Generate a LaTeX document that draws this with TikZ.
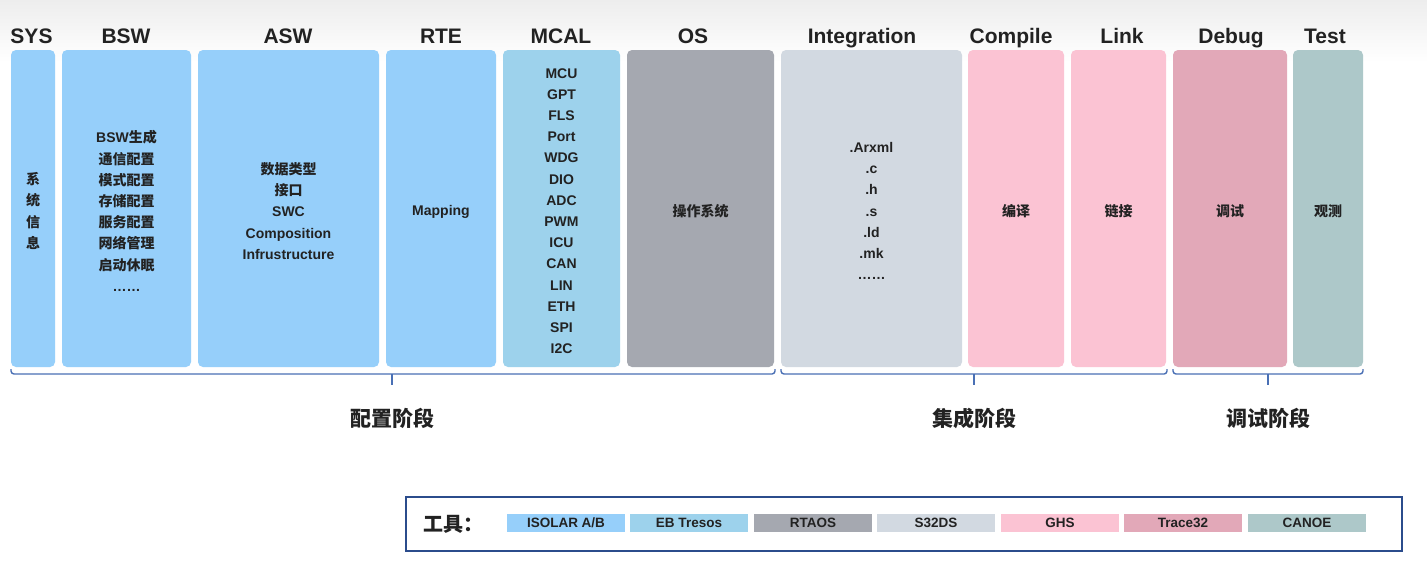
\documentclass[tikz,border=0pt]{standalone}
\usepackage{fontspec}
\setmainfont{Liberation Sans}
\newfontfamily\cjk{Noto Sans CJK SC}
\definecolor{cblue}{HTML}{96CFFA}
\definecolor{cmcal}{HTML}{9DD2EC}
\definecolor{cos}{HTML}{A5A8B0}
\definecolor{cint}{HTML}{D2D9E1}
\definecolor{cpink}{HTML}{FBC3D3}
\definecolor{cdbg}{HTML}{E2A8B8}
\definecolor{ctest}{HTML}{ADC8C9}
\definecolor{cbrace}{HTML}{4A70B5}
\definecolor{cframe}{HTML}{2B4C8C}
\definecolor{ctext}{HTML}{222222}
\begin{document}
\begin{tikzpicture}[x=1pt,y=-1pt,
  col/.style={rounded corners=5pt, inner sep=0pt, minimum height=317pt},
  txt/.style={inner sep=0pt, align=center, yshift=-2.5pt,
    font=\bfseries\fontsize{14}{21.2}\selectfont, text=ctext},
  txtcjk/.style={txt, font=\cjk\bfseries\fontsize{14}{21.2}\selectfont},
  head/.style={font=\bfseries\fontsize{21}{25}\selectfont, text=ctext, anchor=base},
  phase/.style={font=\cjk\bfseries\fontsize{21}{25}\selectfont, text=ctext},
  chip/.style={minimum width=118pt, minimum height=18pt, inner sep=0pt,
    font=\bfseries\fontsize{13.5}{15}\selectfont, text=ctext},
  brace/.style={draw=cbrace, line width=1.4pt, rounded corners=3pt},
  tick/.style={draw=cbrace, line width=1.4pt}]
\useasboundingbox (0,0) rectangle (1427,573);
\fill[white] (0,0) rectangle (1427,573);
\shade[top color=gray!14, bottom color=white] (0,0) rectangle (1427,62);

% headers
\node[head] (hsys) at (31.5,43) {SYS};
\node[head] (hbsw) at (126,43) {BSW};
\node[head] (hasw) at (288,43) {ASW};
\node[head] (hrte) at (441,43) {RTE};
\node[head] (hmcal) at (561,43) {MCAL};
\node[head] (hos) at (693,43) {OS};
\node[head] (hint) at (862,43) {Integration};
\node[head] (hcmp) at (1011,43) {Compile};
\node[head] (hlnk) at (1122,43) {Link};
\node[head] (hdbg) at (1231,43) {Debug};
\node[head] (htst) at (1325,43) {Test};

% columns
\node[col, fill=cblue, minimum width=44pt] (sys) at (33,208.5) {};
\node[col, fill=cblue, minimum width=129pt] (bsw) at (126.5,208.5) {};
\node[col, fill=cblue, minimum width=181pt] (asw) at (288.5,208.5) {};
\node[col, fill=cblue, minimum width=110pt] (rte) at (441,208.5) {};
\node[col, fill=cmcal, minimum width=117pt] (mcal) at (561.5,208.5) {};
\node[col, fill=cos, minimum width=147pt] (os) at (700.5,208.5) {};
\node[col, fill=cint, minimum width=181pt] (integ) at (871.5,208.5) {};
\node[col, fill=cpink, minimum width=96pt] (cmp) at (1016,208.5) {};
\node[col, fill=cpink, minimum width=95pt] (lnk) at (1118.5,208.5) {};
\node[col, fill=cdbg, minimum width=114pt] (dbg) at (1230,208.5) {};
\node[col, fill=ctest, minimum width=70pt] (tst) at (1328,208.5) {};

% column texts
\node[txtcjk] (sys-t) at (sys.center) {系\\统\\信\\息};
\node[txtcjk] (bsw-t) at (bsw.center)
  {{\rmfamily BSW}生成\\通信配置\\模式配置\\存储配置\\服务配置\\网络管理\\启动休眠\\{\rmfamily ……}};
\node[txt] (asw-t) at (asw.center)
  {{\cjk 数据类型}\\{\cjk 接口}\\SWC\\Composition\\Infrustructure};
\node[txt] (rte-t) at (rte.center) {Mapping\strut};
\node[txt] (mcal-t) at (mcal.center)
  {MCU\\GPT\\FLS\\Port\\WDG\\DIO\\ADC\\PWM\\ICU\\CAN\\LIN\\ETH\\SPI\\I2C};
\node[txtcjk] (os-t) at (os.center) {操作系统};
\node[txt] (integ-t) at (integ.center) {.Arxml\\.c\\.h\\.s\\.ld\\.mk\\……};
\node[txtcjk] (cmp-t) at (cmp.center) {编译};
\node[txtcjk] (lnk-t) at (lnk.center) {链接};
\node[txtcjk] (dbg-t) at (dbg.center) {调试};
\node[txtcjk] (tst-t) at (tst.center) {观测};

% braces
\draw[brace] (11,369) -- (11,374) -- (775,374) -- (775,369);
\draw[brace] (781,369) -- (781,374) -- (1167,374) -- (1167,369);
\draw[brace] (1173,369) -- (1173,374) -- (1363,374) -- (1363,369);
\node[phase] (p1) at (392,418) {配置阶段};
\node[phase] (p2) at (974,418) {集成阶段};
\node[phase] (p3) at (1268,418) {调试阶段};
\coordinate (k1) at (392,374);
\coordinate (k2) at (974,374);
\coordinate (k3) at (1268,374);
\draw[tick] (k1) -- ++(0,11);
\draw[tick] (k2) -- ++(0,11);
\draw[tick] (k3) -- ++(0,11);

% tools
\node[draw=cframe, line width=2pt, minimum width=996pt, minimum height=54pt, inner sep=0pt] (tools) at (904,524) {};
\node[font=\cjk\bfseries\fontsize{20}{24}\selectfont, text=ctext] (tlbl) at (453,524) {工具：};
\node[chip, fill=cblue] (t1) at (566,523) {ISOLAR A/B};
\node[chip, fill=cmcal] (t2) at (689,523) {EB Tresos};
\node[chip, fill=cos] (t3) at (813,523) {RTAOS};
\node[chip, fill=cint] (t4) at (936,523) {S32DS};
\node[chip, fill=cpink] (t5) at (1060,523) {GHS};
\node[chip, fill=cdbg] (t6) at (1183,523) {Trace32};
\node[chip, fill=ctest] (t7) at (1307,523) {CANOE};
\end{tikzpicture}
\end{document}
